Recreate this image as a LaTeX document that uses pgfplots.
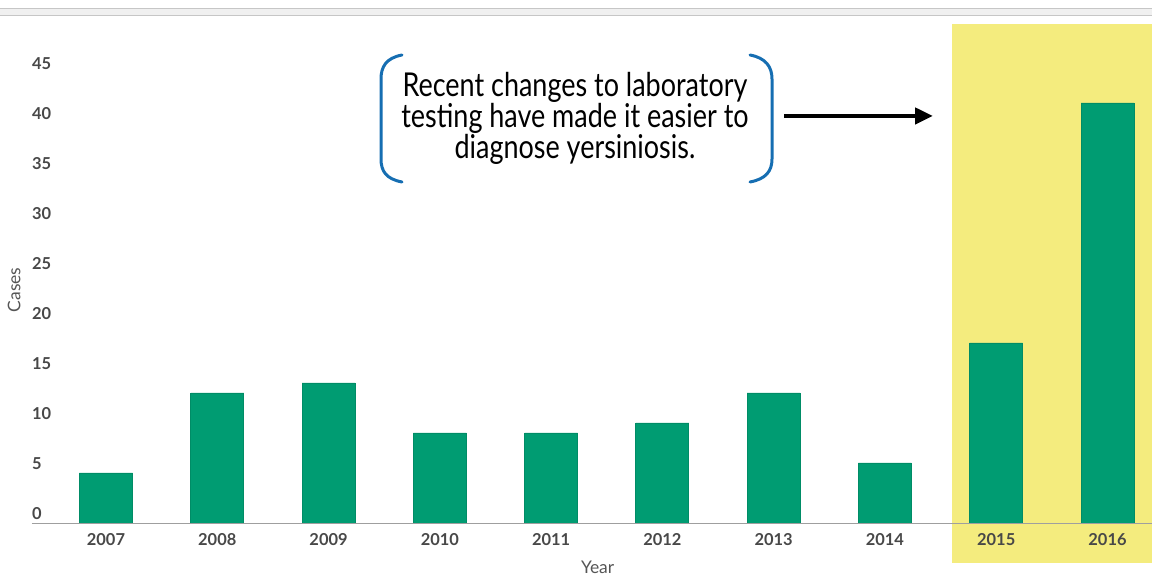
\documentclass[border=0pt]{standalone}
\usepackage{fontspec}
\setmainfont{Lato}
\newfontfamily\annfont[FakeStretch=0.82]{Lato}
\usepackage{pgfplots}
\pgfplotsset{compat=1.18}
\usetikzlibrary{arrows.meta}
\definecolor{bargreen}{RGB}{0,156,114}
\definecolor{baredge}{RGB}{0,140,102}
\definecolor{hl}{RGB}{244,236,126}
\definecolor{tickgray}{RGB}{72,72,72}
\definecolor{labgray}{RGB}{85,85,85}
\definecolor{brblue}{RGB}{22,110,178}
\pgfplotstableread{
idx cases
0 5
1 13
2 14
3 9
4 9
5 10
6 13
7 6
8 18
9 42
}\casedata
\begin{document}
\begin{tikzpicture}[x=1bp,y=1bp]
\useasboundingbox (-32,-53) rectangle (1120,523);
\fill[gray!12] (-32,508) rectangle (1120,515);
\draw[gray!45] (-32,508) -- (1120,508) (-32,515) -- (1120,515);
\fill[hl] (920,-40) rectangle (1120,499);
\begin{axis}[at={(0,0)}, anchor=south west, scale only axis,
  width=1120bp, height=500bp,
  xmin=-0.665, xmax=9.4, ymin=0, ymax=50,
  axis x line*=bottom, axis y line*=left,
  x axis line style={draw=gray!75,-},
  y axis line style={draw=none},
  major tick length=0pt,
  xtick={0,...,9},
  xticklabels={2007,2008,2009,2010,2011,2012,2013,2014,2015,2016},
  xticklabel style={font=\fontsize{16.5}{17}\selectfont\bfseries, text=tickgray, anchor=base, inner sep=0pt, yshift=-23bp},
  ytick={0,5,...,45},
  /pgf/number format/assume math mode=true,
  yticklabel style={font=\fontsize{16.5}{17}\selectfont\bfseries, text=tickgray, anchor=base west, inner sep=0pt, yshift=3.5bp},
  xlabel={Year}, ylabel={Cases},
  every axis x label/.style={at={(rel axis cs:0.505,-0.088)}, anchor=center, font=\fontsize{17.5}{17.5}\selectfont, text=labgray},
  every axis y label/.style={at={(rel axis cs:-0.016,0.466)}, anchor=center, rotate=90, font=\fontsize{17.5}{17.5}\selectfont, text=labgray},
  axis on top,
  clip=false,
]
\addplot[ybar, bar width=53bp, fill=bargreen, draw=baredge, line width=0.8pt] table[x=idx, y=cases] {\casedata};
\end{axis}
\node[anchor=base, font=\annfont\fontsize{33}{33}\selectfont] at (543,426) {Recent changes to laboratory};
\node[anchor=base, font=\annfont\fontsize{33}{33}\selectfont] at (543,395) {testing have made it easier to};
\node[anchor=base, font=\annfont\fontsize{33}{33}\selectfont] at (543,364) {diagnose yersiniosis.};
\draw[brblue, line width=3bp, line cap=round]
  (370,468) .. controls (354,465) and (349,456) .. (349,444) -- (349,364) .. controls (349,352) and (354,344) .. (370,341);
\draw[brblue, line width=3bp, line cap=round]
  (718,468) .. controls (734,465) and (740,456) .. (740,444) -- (740,364) .. controls (740,352) and (734,344) .. (718,341);
\draw[black, line width=4.5bp, -{Triangle[length=18bp,width=16bp]}] (752,407) -- (901,407);
\end{tikzpicture}
\end{document}
